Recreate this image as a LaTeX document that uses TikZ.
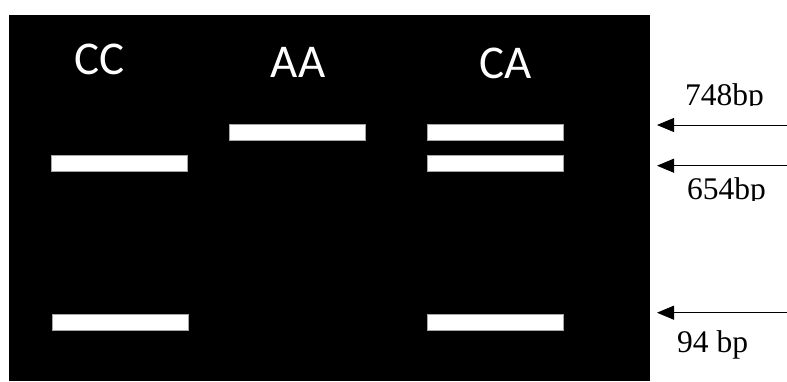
\documentclass[tikz,border=0pt]{standalone}
\usepackage{fontspec}
\setmainfont{Liberation Serif}
\newfontfamily\lanefont{Carlito}
\usetikzlibrary{arrows.meta}
\begin{document}
\begin{tikzpicture}[x=1pt,y=-1pt,
  band/.style={rectangle,fill=white,draw=gray!70,line width=0.8pt,
    minimum width=136pt,minimum height=16pt,inner sep=0pt},
  lane/.style={text=white,font=\lanefont\fontsize{47}{56}\selectfont,
    anchor=base,inner sep=0pt},
  size/.style={font=\fontsize{31.5}{38}\selectfont,anchor=base west,inner sep=0pt},
  marker/.style={line width=0.9pt,-{Triangle[length=17pt,width=14pt]}}]
  \useasboundingbox (0,0) rectangle (787,381);
  % gel background
  \fill[black] (9,15) rectangle (650,381);
  % lane labels
  \node[lane] (lcc) at (100,74) {CC};
  \node[lane] (laa) at (298,77) {AA};
  \node[lane] (lca) at (506,78) {CA};
  % bands
  \node[band] (cc1) at (119,163.5) {};
  \node[band] (cc2) at (120,322) {};
  \node[band] (aa1) at (297,132) {};
  \node[band] (ca1) at (495,132) {};
  \node[band] (ca2) at (495,163.5) {};
  \node[band] (ca3) at (495,322) {};
  % size markers
  \coordinate (t1) at (657,125);
  \coordinate (s1) at (790,125);
  \coordinate (t2) at (657,165.7);
  \coordinate (s2) at (790,165.7);
  \coordinate (t3) at (657,312.7);
  \coordinate (s3) at (790,312.7);
  \draw[marker] (s1) -- (t1);
  \draw[marker] (s2) -- (t2);
  \draw[marker] (s3) -- (t3);
  \begin{scope}
    \clip (660,60) rectangle (787,105);
    \node[size] (m748) at (685,105) {748bp};
  \end{scope}
  \begin{scope}
    \clip (660,170) rectangle (787,200);
    \node[size] (m654) at (687,199) {654bp};
  \end{scope}
  \node[size] (m94) at (677,352) {94 bp};
\end{tikzpicture}
\end{document}
